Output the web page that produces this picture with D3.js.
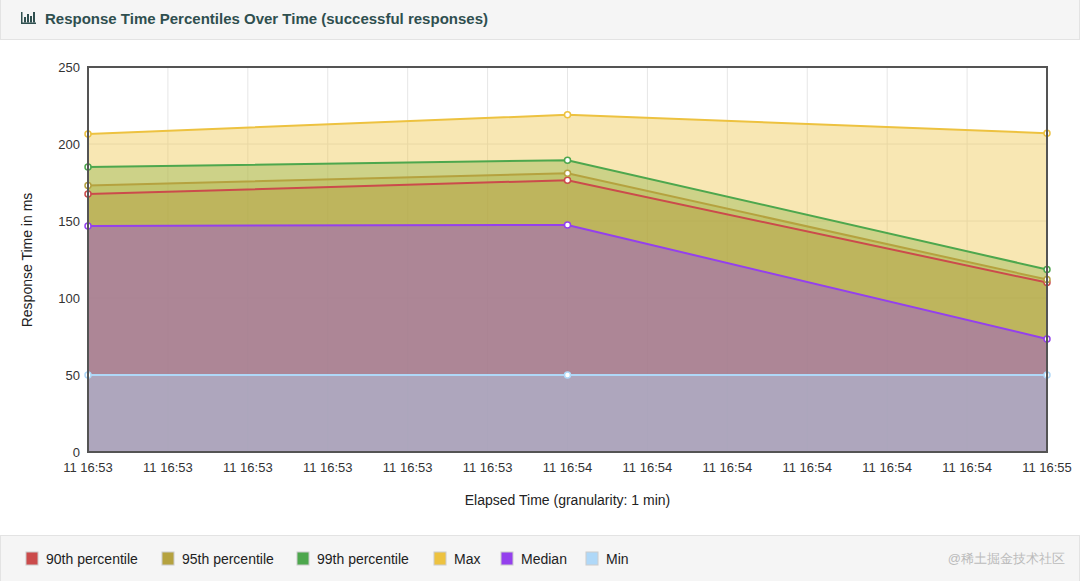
<!DOCTYPE html>
<html><head><meta charset="utf-8">
<script src="https://cdn.jsdelivr.net/npm/d3@7"></script>
<style>
body{margin:0;width:1080px;height:581px;font-family:"Liberation Sans",Arial,sans-serif;background:#fff;overflow:hidden}
#hdr{position:absolute;left:0;top:0;width:1078px;height:39px;background:#f5f5f5;border:1px solid #e3e3e3;border-top:none}
#ftr{position:absolute;left:0;top:535px;width:1078px;height:46px;background:#f5f5f5;border:1px solid #e3e3e3}
svg{position:absolute;left:0;top:0}
</style></head><body>
<div id="hdr"></div><div id="ftr"></div>
<svg id="c" width="1080" height="581"></svg>
<script>
const tickLabels=["11 16:53","11 16:53","11 16:53","11 16:53","11 16:53","11 16:53","11 16:54","11 16:54","11 16:54","11 16:54","11 16:54","11 16:54","11 16:55"];
const pointIdx=[0,6,12];
const seriesNames=["90th percentile","95th percentile","99th percentile","Max","Median","Min"];
const seriesColors=["#cb4b4b","#b5a23f","#4da74d","#edc240","#9440ed","#afd8f8"];
const p90=[167.5,176.5,110];
const p95=[173,181,112];
const p99=[185,189.5,118.5];
const maxV=[206.5,219,207];
const median=[146.8,147.4,73.4];
const minV=[50,50,50];
const allSeries=[p90,p95,p99,maxV,median,minV];
const yTicks=[0,50,100,150,200,250];

const svg=d3.select("#c");
const L=88,R=1047,T=67,B=452;
const x=d3.scaleLinear().domain([0,12]).range([L,R]);
const y=d3.scaleLinear().domain([0,250]).range([B,T]);

// title
svg.append("text").attr("x",45).attr("y",24).attr("font-size",15).attr("font-weight","bold").attr("fill","#2f4f4f").text("Response Time Percentiles Over Time (successful responses)");
const ic=svg.append("g").attr("fill","#2f4f4f");
ic.append("rect").attr("x",21).attr("y",12).attr("width",1.5).attr("height",12);
ic.append("rect").attr("x",21).attr("y",22.5).attr("width",15).attr("height",1.5);
[[24,17],[27,14],[30,16],[33,12]].forEach(d=>ic.append("rect").attr("x",d[0]).attr("y",d[1]).attr("width",2).attr("height",22.5-d[1]));

// grid
const g=svg.append("g");
g.selectAll(".gx").data(d3.range(13)).join("line").attr("x1",d=>x(d)).attr("x2",d=>x(d)).attr("y1",T).attr("y2",B).attr("stroke","#e6e6e6");
g.selectAll(".gy").data(yTicks).join("line").attr("x1",L).attr("x2",R).attr("y1",d=>y(d)).attr("y2",d=>y(d)).attr("stroke","#e6e6e6");

const area=d3.area().x((d,i)=>x(pointIdx[i])).y0(y(0)).y1(d=>y(d));
const line=d3.line().x((d,i)=>x(pointIdx[i])).y(d=>y(d));
allSeries.forEach((s,k)=>{
  svg.append("path").datum(s).attr("d",area).attr("fill",seriesColors[k]).attr("fill-opacity",0.4);
});
allSeries.forEach((s,k)=>{
  svg.append("path").datum(s).attr("d",line).attr("fill","none").attr("stroke",seriesColors[k]).attr("stroke-width",2);
  svg.selectAll(null).data(s).join("circle").attr("cx",(d,i)=>x(pointIdx[i])).attr("cy",d=>y(d)).attr("r",3).attr("fill","#fff").attr("stroke",seriesColors[k]).attr("stroke-width",1.5);
});
svg.append("rect").attr("x",L).attr("y",T).attr("width",R-L).attr("height",B-T).attr("fill","none").attr("stroke","#545454").attr("stroke-width",2);

// axes labels
svg.selectAll(".yt").data(yTicks).join("text").attr("x",L-8).attr("y",d=>y(d)+5).attr("text-anchor","end").attr("font-size",13).attr("fill","#333").text(d=>d);
svg.selectAll(".xt").data(tickLabels).join("text").attr("x",(d,i)=>x(i)).attr("y",472).attr("text-anchor","middle").attr("font-size",13).attr("fill","#333").text(d=>d);
svg.append("text").attr("x",(L+R)/2+0).attr("y",505).attr("text-anchor","middle").attr("font-size",14).attr("fill","#222").text("Elapsed Time (granularity: 1 min)");
svg.append("text").attr("transform","translate(32,260) rotate(-90)").attr("text-anchor","middle").attr("font-size",14).attr("fill","#222").text("Response Time in ms");

// legend
const lx=[26,162,297,434,501,586];
seriesNames.forEach((n,k)=>{
  svg.append("rect").attr("x",lx[k]).attr("y",552).attr("width",12).attr("height",13).attr("fill",seriesColors[k]).attr("stroke","#ccc");
  svg.append("text").attr("x",lx[k]+20).attr("y",564).attr("font-size",14).attr("fill","#222").text(n);
});
svg.append("text").attr("x",1065).attr("y",563).attr("text-anchor","end").attr("font-size",13).attr("fill","#bbb").text("@稀土掘金技术社区");
</script></body></html>
